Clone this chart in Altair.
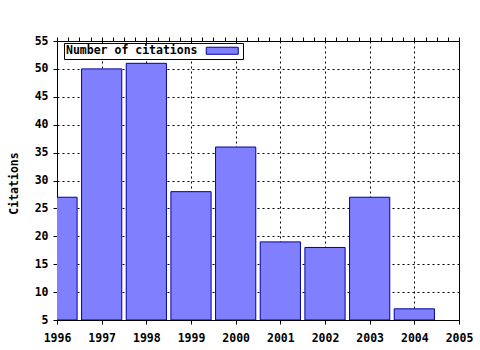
import altair as alt
import pandas as pd

years = [1996, 1997, 1998, 1999, 2000, 2001, 2002, 2003, 2004]
citations = [27, 50, 51, 28, 36, 19, 18, 27, 7]
series_name = "Number of citations"
x_ticks = [1996 + i * 0.25 for i in range(37)]
y_ticks = list(range(5, 56, 5))
y_title = "Citations"

df = pd.DataFrame({"year": years, "citations": citations, "series": series_name})

FONT = "DejaVu Sans Mono"
FS = 11.5
BAR_FILL = "#8080ff"
BAR_STROKE = "#0000a0"

xscale = alt.Scale(domain=[1996, 2005], nice=False, zero=False)
yscale = alt.Scale(domain=[5, 55], nice=False, zero=False)

major_test = "datum.value % 1 === 0"

x_axis = alt.Axis(
    values=x_ticks, format="d", labelFlush=False, labelOverlap=False,
    labelExpr=f"{major_test} ? datum.label : ''",
    grid=True, gridDash=[2, 3], gridColor="black",
    gridOpacity={"condition": {"test": major_test, "value": 1}, "value": 0},
    tickSize=4, tickColor="black", domainColor="black", labelPadding=8,
    labelFont=FONT, labelFontSize=FS, labelFontWeight="bold", labelColor="black",
    title=None,
)
x_axis_top = alt.Axis(
    values=x_ticks, labels=False, grid=False, tickSize=4, tickColor="black",
    domainColor="black", title=None, orient="top",
)
y_axis = alt.Axis(
    values=y_ticks, grid=True, gridDash=[2, 3], gridColor="black",
    tickSize=4, tickColor="black", domainColor="black", labelPadding=5,
    labelFont=FONT, labelFontSize=FS, labelFontWeight="bold", labelColor="black",
    title=y_title, titleFont=FONT, titleFontSize=FS, titleFontWeight="bold",
    titleColor="black", titleX=-43, titleY=142, titleAngle=270,
    titleAlign="center", titleBaseline="middle",
)

sym_path = "M-1,-0.78L6.11,-0.78L6.11,0.78L-1,0.78Z"

base = alt.Chart(df).transform_calculate(
    x0="datum.year - 0.45", x1="datum.year + 0.45", base="5"
)

bars = base.mark_bar(stroke=BAR_STROKE, strokeWidth=1, clip=True).encode(
    x=alt.X("x0:Q", scale=xscale, axis=x_axis),
    x2="x1:Q",
    y=alt.Y("citations:Q", scale=yscale, axis=y_axis),
    y2="base:Q",
    fill=alt.Fill(
        "series:N",
        scale=alt.Scale(range=[BAR_FILL]),
        legend=alt.Legend(
            title=series_name, orient="none", legendX=7, legendY=2,
            titleOrient="left", titleFont=FONT, titleFontSize=FS,
            titleFontWeight="bold", titleColor="black", titlePadding=7,
            labelExpr="' '", labelFont=FONT, labelFontSize=FS, labelOffset=21,
            symbolType=sym_path, symbolSize=81, symbolStrokeColor=BAR_STROKE,
            symbolStrokeWidth=1, symbolOpacity=1,
            strokeColor="black", fillColor="white", padding=2, cornerRadius=0,
        ),
    ),
)

top = base.mark_rule(opacity=0).encode(
    x=alt.X("x0:Q", scale=xscale, axis=x_axis_top),
)

chart = (
    alt.layer(bars, top)
    .resolve_axis(x="independent")
    .properties(
        width=402, height=279,
        autosize=alt.AutoSizeParams(type="none"),
        padding={"left": 57, "top": 41, "right": 21, "bottom": 30},
        background="white",
    )
    .configure_view(stroke="black", strokeWidth=1)
)

chart.save("out.html", embed_options={"renderer": "svg", "actions": False})
